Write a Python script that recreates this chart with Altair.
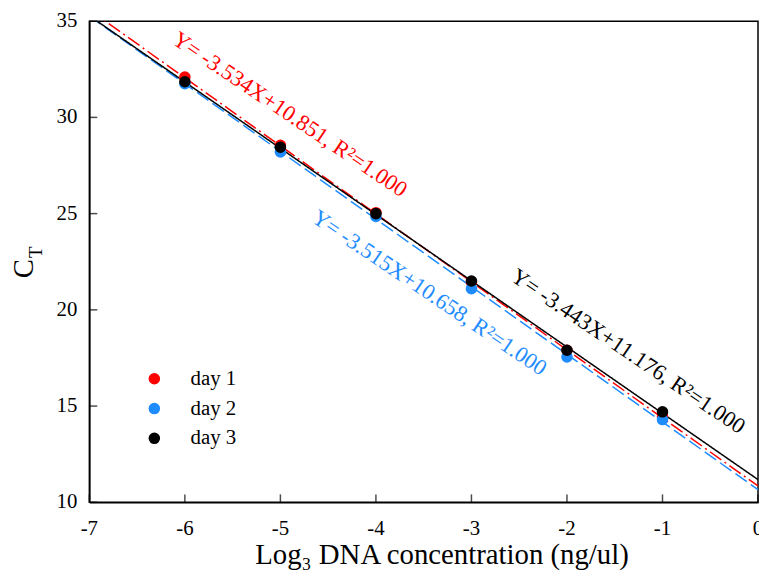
import altair as alt
import pandas as pd

# ---- data ----
x_vals = [-6, -5, -4, -3, -2, -1]
day1 = [32.1, 28.55, 25.05, 21.45, 17.9, 14.45]
day2 = [31.75, 28.2, 24.85, 21.1, 17.55, 14.3]
day3 = [31.85, 28.45, 25.0, 21.5, 17.9, 14.7]
series = ["day 1", "day 2", "day 3"]
colors = ["#ff0000", "#1e8cff", "#000000"]
dashes = [[14, 4, 2, 4], [14, 5], [1, 0]]

# fitted lines, end points at x = -7 and x = 0
line_x = [-7, 0]
fit_day1 = [35.59, 10.85]
fit_day2 = [35.26, 10.66]
fit_day3 = [35.28, 11.18]

labels = ["Y= -3.534X+10.851, R²=1.000",
          "Y= -3.515X+10.658, R²=1.000",
          "Y= -3.443X+11.176, R²=1.000"]
label_x = [-4.9, -3.44, -1.36]
label_y = [30.15, 20.88, 17.84]

x_ticks = [-7, -6, -5, -4, -3, -2, -1, 0]
x_tick_labels = ["-7", "-6", "-5", "-4", "-3", "-2", "-1", "0"]
y_ticks = [10, 15, 20, 25, 30, 35]
y_tick_labels = ["10", "15", "20", "25", "30", "35"]

W, H = 674, 485
FONT = "Liberation Serif"

pts = pd.DataFrame({
    "x": x_vals * 3,
    "y": day1 + day2 + day3,
    "series": [s for s in series for _ in x_vals],
})

xs = alt.Scale(domain=[-7, 0], nice=False, zero=False)
ys = alt.Scale(domain=[10, 35], nice=False, zero=False)

xaxis = alt.Axis(values=x_ticks, ticks=False, labels=False,
                 title="Log₃ DNA concentration (ng/ul)", titleFontSize=29,
                 titleX=355, titleY=62, titleBaseline="alphabetic", titleAlign="center")
yaxis = alt.Axis(values=y_ticks, ticks=False, labels=False,
                 title="C", titleFontSize=29,
                 titleX=-66, titleY=249, titleBaseline="middle", titleAlign="center",
                 titleAngle=270)

layers = []

# fitted lines
fits = [fit_day1, fit_day2, fit_day3]
for i, (s, c, d, f) in enumerate(zip(series, colors, dashes, fits)):
    df = pd.DataFrame({"x": line_x, "y": f})
    if i == 0:
        enc = dict(x=alt.X("x:Q", scale=xs, axis=xaxis), y=alt.Y("y:Q", scale=ys, axis=yaxis))
    else:
        enc = dict(x=alt.X("x:Q", scale=xs), y=alt.Y("y:Q", scale=ys))
    layers.append(
        alt.Chart(df).mark_line(color=c, strokeDash=d, strokeWidth=1.5, clip=True)
        .encode(**enc)
    )

# points
layers.append(
    alt.Chart(pts).mark_circle(size=135, opacity=1)
    .encode(
        x=alt.X("x:Q", scale=xs),
        y=alt.Y("y:Q", scale=ys),
        color=alt.Color("series:N",
                        scale=alt.Scale(domain=series, range=colors),
                        legend=alt.Legend(title=None, orient="none",
                                          legendX=55, legendY=350,
                                          labelFont=FONT, labelFontSize=21,
                                          labelColor="black", symbolType="circle",
                                          symbolSize=135, symbolStrokeWidth=0,
                                          labelOffset=26, rowPadding=8, padding=0)),
        order=alt.Order("series:N"),
    )
)

# equation labels
lab = pd.DataFrame({"x": label_x, "y": label_y, "t": labels, "series": series})
layers.append(
    alt.Chart(lab).mark_text(font=FONT, fontSize=22.5, angle=34, align="center",
                             baseline="middle")
    .encode(x=alt.X("x:Q", scale=xs), y=alt.Y("y:Q", scale=ys),
            text="t:N",
            color=alt.Color("series:N", scale=alt.Scale(domain=series, range=colors),
                            legend=None))
)

# inward ticks
xt = pd.DataFrame({"x": x_ticks, "lab": x_tick_labels})
layers.append(
    alt.Chart(xt).mark_tick(orient="vertical", size=8, thickness=1.5, color="black")
    .encode(x=alt.X("x:Q", scale=xs), y=alt.value(H - 4))
)
yt = pd.DataFrame({"y": y_ticks, "lab": y_tick_labels})
layers.append(
    alt.Chart(yt).mark_tick(orient="horizontal", size=8, thickness=1.5, color="black")
    .encode(y=alt.Y("y:Q", scale=ys), x=alt.value(4))
)

# tick labels (serif)
layers.append(
    alt.Chart(xt).mark_text(font=FONT, fontSize=21, align="center", baseline="middle",
                            color="black")
    .encode(x=alt.X("x:Q", scale=xs), y=alt.value(H + 27), text="lab:N")
)
layers.append(
    alt.Chart(yt).mark_text(font=FONT, fontSize=21, align="right", baseline="middle",
                            color="black")
    .encode(y=alt.Y("y:Q", scale=ys), x=alt.value(-12), text="lab:N")
)

# subscript T of the y title
layers.append(
    alt.Chart(pd.DataFrame({"t": ["T"]})).mark_text(font=FONT, fontSize=19, angle=270,
                                                    align="center", baseline="middle",
                                                    color="black")
    .encode(text="t:N", x=alt.value(-54), y=alt.value(233))
)

chart = alt.layer(*layers).properties(
    width=W, height=H,
    background="white",
    autosize=alt.AutoSizeParams(type="none"),
    padding={"left": 82, "top": 11, "right": 1, "bottom": 70},
).configure_view(stroke="black", strokeWidth=1.5).configure_axis(
    titleFont=FONT, titleFontWeight="normal", titleColor="black",
    domainColor="black", domainWidth=1.5, grid=False,
)

chart.save("out.html", embed_options={"renderer": "svg", "actions": False})
